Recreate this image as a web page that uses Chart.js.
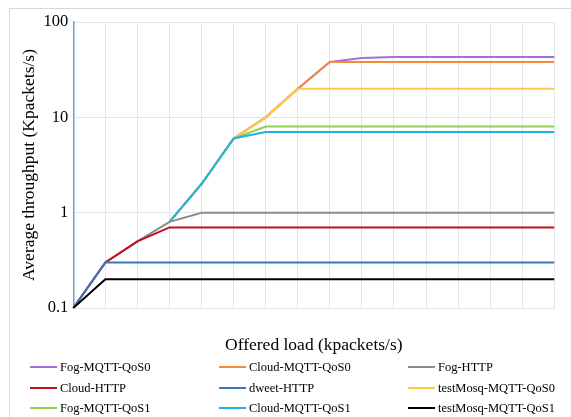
<!DOCTYPE html>
<html>
<head>
<meta charset="utf-8">
<script src="https://cdn.jsdelivr.net/npm/chart.js@4.4.1/dist/chart.umd.min.js"></script>
<style>
  html, body { margin: 0; padding: 0; background: #fff; }
  #wrap { position: relative; width: 571px; height: 417px; overflow: hidden; background: #fff; }
  #frame { position: absolute; left: 9px; top: 8px; width: 600px; height: 450px; border: 1px solid #D9D9D9; box-sizing: border-box; }
  #c { position: absolute; left: 0; top: 0; }
  .leg { position: absolute; font-family: "Liberation Serif", serif; font-size: 12.5px; color: #000; white-space: nowrap; line-height: 14px; }
  .leg .ln { position: absolute; left: 0; top: 6px; width: 27px; height: 2px; }
  .leg .tx { position: absolute; left: 30px; top: 0; }
</style>
</head>
<body>
<div id="wrap">
  <div id="frame"></div>
  <canvas id="c" width="571" height="417"></canvas>
  <div id="legend"></div>
</div>
<script>
// ---- data ----
const offeredLoad = ['1','2','3','4','5','6','7','8','9','10','11','12','13','14','15','16'];
const yTicks = [0.1, 1, 10, 100];

const seriesNames = ['Fog-MQTT-QoS0','Cloud-MQTT-QoS0','Fog-HTTP','Cloud-HTTP','dweet-HTTP',
                     'testMosq-MQTT-QoS0','Fog-MQTT-QoS1','Cloud-MQTT-QoS1','testMosq-MQTT-QoS1'];
const seriesColors = ['#A56FD6','#F28C38','#8C8C8C','#C0101A','#3A76B8',
                      '#FFC845','#92D050','#1EB2E8','#000000'];

const fogMqttQos0      = [null,null,null,0.8,2,6,10,20,38,42,43,43,43,43,43,43];
const cloudMqttQos0    = [null,null,null,0.8,2,6,10,20,38,38,38,38,38,38,38,38];
const fogHttp          = [0.1,0.3,0.5,0.8,1,1,1,1,1,1,1,1,1,1,1,1];
const cloudHttp        = [0.1,0.3,0.5,0.7,0.7,0.7,0.7,0.7,0.7,0.7,0.7,0.7,0.7,0.7,0.7,0.7];
const dweetHttp        = [0.1,0.3,0.3,0.3,0.3,0.3,0.3,0.3,0.3,0.3,0.3,0.3,0.3,0.3,0.3,0.3];
const testMosqMqttQos0 = [null,null,null,0.8,2,6,10,20,20,20,20,20,20,20,20,20];
const fogMqttQos1      = [null,null,null,0.8,2,6,8,8,8,8,8,8,8,8,8,8];
const cloudMqttQos1    = [null,null,null,0.8,2,6,7,7,7,7,7,7,7,7,7,7];
const testMosqMqttQos1 = [0.1,0.2,0.2,0.2,0.2,0.2,0.2,0.2,0.2,0.2,0.2,0.2,0.2,0.2,0.2,0.2];

const seriesValues = [fogMqttQos0, cloudMqttQos0, fogHttp, cloudHttp, dweetHttp,
                      testMosqMqttQos0, fogMqttQos1, cloudMqttQos1, testMosqMqttQos1];

// ---- layout constants ----
const PAD_L = 14.5, PLOT_L = 73.3, PLOT_R = 554.3, PLOT_T = 22, PLOT_B = 308, XBOT = 360;
const N = seriesNames.length;

const datasets = seriesNames.map((name, i) => ({
  label: name,
  data: seriesValues[i],
  borderColor: seriesColors[i],
  backgroundColor: seriesColors[i],
  borderWidth: 2,
  pointRadius: 0,
  tension: 0,
  fill: false,
  spanGaps: false,
  order: N - 1 - i
}));

new Chart(document.getElementById('c'), {
  type: 'line',
  data: { labels: offeredLoad, datasets },
  options: {
    responsive: false,
    animation: false,
    events: [],
    layout: { padding: { left: PAD_L, right: 571 - PLOT_R, top: PLOT_T, bottom: 417 - XBOT } },
    plugins: { legend: { display: false }, tooltip: { enabled: false } },
    scales: {
      x: {
        type: 'category',
        offset: false,
        grid: { color: '#E2E5EC', lineWidth: 1, drawTicks: false },
        border: { display: true, color: '#E2E5EC', width: 1 },
        ticks: { display: false },
        title: { display: true, text: 'Offered load (kpackets/s)', color: '#000',
                 font: { family: 'Liberation Serif', size: 17.5 }, padding: { top: 4, bottom: 4 } },
        afterFit: (s) => { s.height = XBOT - PLOT_B; }
      },
      y: {
        type: 'logarithmic',
        min: 0.1, max: 100,
        grid: { color: '#E2E5EC', lineWidth: 1, drawTicks: false },
        border: { display: true, color: '#6A9FD4', width: 1.5 },
        afterBuildTicks: (s) => { s.ticks = yTicks.map(v => ({ value: v, major: false })); },
        ticks: { color: '#000', padding: 5, font: { family: 'Liberation Serif', size: 16.5 },
                 callback: (v) => String(v) },
        title: { display: true, text: 'Average throughput (Kpackets/s)', color: '#000',
                 font: { family: 'Liberation Serif', size: 17.5 }, padding: { top: 4, bottom: 4 } },
        afterFit: (s) => { s.width = PLOT_L - PAD_L; }
      }
    }
  }
});

// ---- legend (3 columns, real text) ----
const legCols = [30, 219, 408];
const legRows = [360, 381, 401];
const legend = document.getElementById('legend');
seriesNames.forEach((name, i) => {
  const d = document.createElement('div');
  d.className = 'leg';
  d.style.left = legCols[i % 3] + 'px';
  d.style.top = legRows[Math.floor(i / 3)] + 'px';
  d.innerHTML = '<span class="ln" style="background:' + seriesColors[i] + '"></span><span class="tx"></span>';
  d.querySelector('.tx').textContent = name;
  legend.appendChild(d);
});
</script>
</body>
</html>
